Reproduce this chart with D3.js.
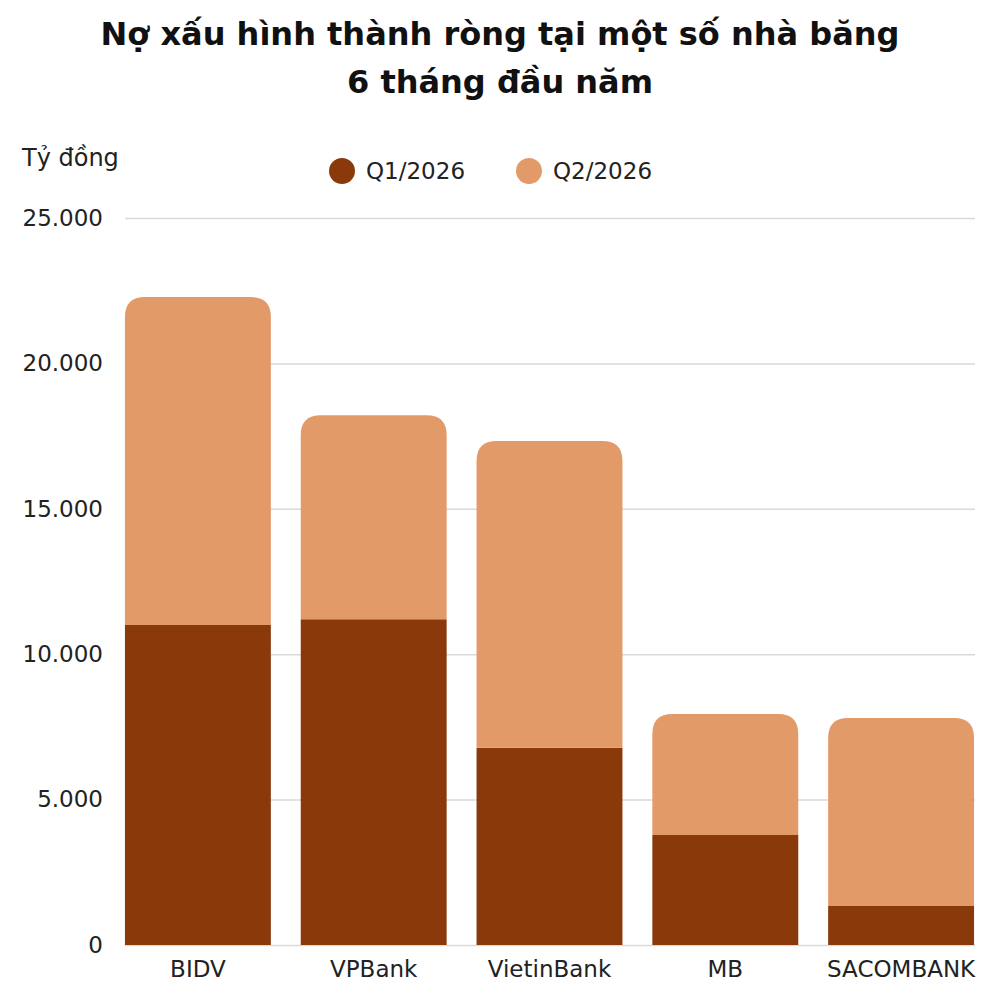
<!DOCTYPE html>
<html>
<head>
<meta charset="utf-8">
<script src="https://cdn.jsdelivr.net/npm/d3@7"></script>
<style>
  body { margin: 0; background: #fff; }
  svg, svg text { font-family: "DejaVu Sans", Verdana, sans-serif; }
</style>
</head>
<body>
<div id="chart"></div>
<script>
// data (tỷ đồng)
const banks = ["BIDV", "VPBank", "VietinBank", "MB", "SACOMBANK"];
const q1 = [11000, 11200, 6780, 3780, 1340];
const q2 = [11280, 7020, 10550, 4160, 6470];
const yTicks = [0, 5000, 10000, 15000, 20000, 25000];
const seriesNames = ["Q1/2026", "Q2/2026"];
const colors = ["#8a3a0a", "#e39a69"];

const width = 1000, height = 1000;
const font = "DejaVu Sans, Verdana, sans-serif";

const svg = d3.select("#chart")
  .append("svg")
    .attr("width", width)
    .attr("height", height);

// title
svg.append("text")
  .attr("x", 500).attr("y", 45)
  .attr("text-anchor", "middle")
  .attr("font-size", 32).attr("font-weight", "bold")
  .attr("fill", "#111")
  .text("Nợ xấu hình thành ròng tại một số nhà băng");
svg.append("text")
  .attr("x", 500).attr("y", 93)
  .attr("text-anchor", "middle")
  .attr("font-size", 32).attr("font-weight", "bold")
  .attr("fill", "#111")
  .text("6 tháng đầu năm");

const x = d3.scaleBand()
  .domain(banks)
  .range([110, 989])
  .paddingInner(0.17)
  .paddingOuter(0.085);

const y = d3.scaleLinear()
  .domain([0, 25000])
  .range([945, 218]);

// grid + y labels
const fmt = d => d === 0 ? "0" : d3.format(",")(d).replace(/,/g, ".");
const yAxis = svg.append("g")
  .attr("transform", "translate(125,0)")
  .attr("font-family", font)
  .call(d3.axisLeft(y).tickValues(yTicks).tickSize(-850).tickFormat(fmt).tickPadding(22));
yAxis.attr("font-family", font);
yAxis.select(".domain").remove();
yAxis.selectAll(".tick line").attr("stroke", "#d9d9d9").attr("stroke-width", 1.5);
yAxis.selectAll(".tick text").attr("font-size", 23).attr("fill", "#222");

svg.append("text")
  .attr("x", 22).attr("y", 166)
  .attr("font-size", 24).attr("fill", "#222")
  .text("Tỷ đồng");

// stacked bars
const rows = banks.map((b, i) => ({ bank: b, q1: q1[i], q2: q2[i] }));
const stacked = d3.stack().keys(["q1", "q2"])(rows);

function topRounded(x0, y0, w, h, r) {
  r = Math.min(r, h, w / 2);
  return `M${x0},${y0 + h}V${y0 + r}Q${x0},${y0} ${x0 + r},${y0}` +
    `H${x0 + w - r}Q${x0 + w},${y0} ${x0 + w},${y0 + r}V${y0 + h}Z`;
}

stacked.forEach((layer, li) => {
  svg.append("g")
    .attr("fill", colors[li])
    .selectAll("path")
    .data(layer).enter()
    .append("path")
      .attr("d", d => {
        const x0 = x(d.data.bank), w = x.bandwidth();
        const yt = y(d[1]), h = y(d[0]) - y(d[1]);
        return li === 1 ? topRounded(x0, yt, w, h, 20) : `M${x0},${yt}h${w}v${h}h${-w}Z`;
      });
});

// x labels
const xAxis = svg.append("g")
  .attr("transform", "translate(0,945)")
  .call(d3.axisBottom(x).tickSize(0).tickPadding(16));
xAxis.attr("font-family", font);
xAxis.select(".domain").remove();
xAxis.selectAll(".tick text").attr("font-size", 23).attr("fill", "#222");

// legend
const legend = svg.append("g").attr("transform", "translate(342,171)");
const lx = [0, 187];
seriesNames.forEach((name, i) => {
  const g = legend.append("g").attr("transform", `translate(${lx[i]},0)`);
  g.append("circle").attr("r", 13).attr("fill", colors[i]);
  g.append("text")
    .attr("x", 24).attr("y", 8)
    .attr("font-size", 23).attr("fill", "#222")
    .text(name);
});
</script>
</body>
</html>
